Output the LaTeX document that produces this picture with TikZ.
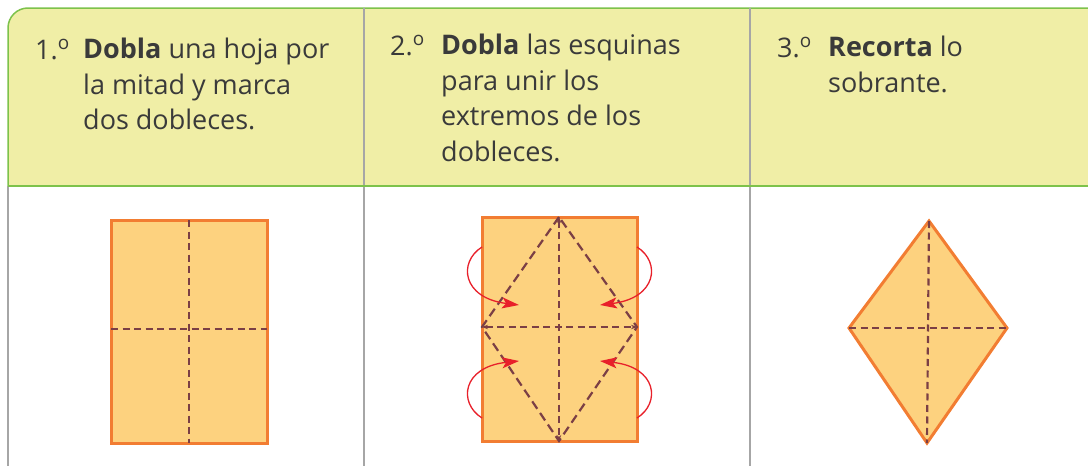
\documentclass[tikz,border=0pt]{standalone}
\usepackage{fontspec}
\setmainfont{Open Sans}
\usetikzlibrary{arrows.meta}

\definecolor{headfill}{HTML}{F0EEA6}
\definecolor{headline}{HTML}{7DC24B}
\definecolor{sepgray}{HTML}{A6A6A6}
\definecolor{paper}{HTML}{FDD27F}
\definecolor{paperedge}{HTML}{F27D32}
\definecolor{fold}{HTML}{7B3F45}
\definecolor{turn}{HTML}{E8202A}
\definecolor{ink}{HTML}{3A3A3A}

\tikzset{
  num/.style={anchor=base west, inner sep=0pt, text=ink, font=\fontsize{27}{35.5}\selectfont},
  stepbody/.style={anchor=north west, inner sep=0pt, text=ink, align=left, font=\fontsize{27}{35.5}\selectfont},
  sheet/.style={fill=paper, draw=paperedge, line width=3pt},
  crease/.style={draw=fold, line width=2.2pt, dash pattern=on 7pt off 4.5pt},
  flap/.style={draw=turn, line width=1.3pt, -{Stealth[length=17pt,width=11pt,inset=4pt]}}
}

\begin{document}
\begin{tikzpicture}[x=1pt,y=-1pt]
  \useasboundingbox (0,0) rectangle (1088,466);

  % Header band
  \draw[fill=headfill, draw=headline, line width=1.5pt]
    (1092,186) -- (8,186) [rounded corners=20pt] -- (8,8) [sharp corners] -- (1092,8);

  % Column lines
  \draw[sepgray, line width=1.4pt] (8,186) -- (8,470);
  \draw[sepgray, line width=1.4pt] (364,8) -- (364,470);
  \draw[sepgray, line width=1.4pt] (750,8) -- (750,470);
  \draw[headline, line width=1.5pt] (8,186) -- (1092,186);

  % Step texts
  \node[num] (n1) at (35,59) {1.\textsuperscript{o}};
  \node[stepbody] (t1) at (83,38) {\textbf{Dobla} una hoja por\\ la mitad y marca\\ dos dobleces.};
  \node[num] (n2) at (390,55) {2.\textsuperscript{o}};
  \node[stepbody] (t2) at (441,34) {\textbf{Dobla} las esquinas\\ para unir los\\ extremos de los\\ dobleces.};
  \node[num] (n3) at (777,57) {3.\textsuperscript{o}};
  \node[stepbody] (t3) at (828,36) {\textbf{Recorta} lo\\ sobrante.};

  % Step 1: sheet with two creases
  \draw[sheet] (111,220) rectangle (267,443);
  \coordinate (a1) at (189,220); \coordinate (a2) at (189,443);
  \coordinate (a3) at (111,329); \coordinate (a4) at (267,329);
  \draw[crease] (a1) -- (a2);
  \draw[crease] (a3) -- (a4);

  % Step 2: corners folded to the crease ends
  \draw[sheet] (482,217) rectangle (637,441);
  \coordinate (top) at (559,217); \coordinate (bot) at (559,441);
  \coordinate (lft) at (482,327); \coordinate (rgt) at (637,327);
  \draw[crease, dash pattern=on 9pt off 5pt] (top) -- (lft) -- (bot) -- (rgt) -- cycle;
  \draw[crease, {Stealth[length=6pt]}-{Stealth[length=6pt]}] (top) -- (bot);
  \draw[crease, {Stealth[length=6pt]}-{Stealth[length=6pt]}] (lft) -- (rgt);

  % Red turn arrows
  \coordinate (f1) at (482,247); \coordinate (g1) at (519,305);
  \coordinate (f2) at (482,418); \coordinate (g2) at (519,361);
  \coordinate (f3) at (637,247); \coordinate (g3) at (600,305);
  \coordinate (f4) at (637,418); \coordinate (g4) at (600,361);
  \draw[flap] (f1) .. controls (458,262) and (462,298) .. (g1);
  \draw[flap] (f2) .. controls (458,403) and (462,367) .. (g2);
  \draw[flap] (f3) .. controls (661,262) and (657,298) .. (g3);
  \draw[flap] (f4) .. controls (661,403) and (657,367) .. (g4);

  % Step 3: the cut-out kite
  \coordinate (k1) at (929,221); \coordinate (k2) at (849,328);
  \coordinate (k3) at (927,443); \coordinate (k4) at (1007,328);
  \draw[sheet, line join=miter] (k1) -- (k2) -- (k3) -- (k4) -- cycle;
  \draw[crease] (k1) -- (k3);
  \draw[crease] (k2) -- (k4);
\end{tikzpicture}
\end{document}
